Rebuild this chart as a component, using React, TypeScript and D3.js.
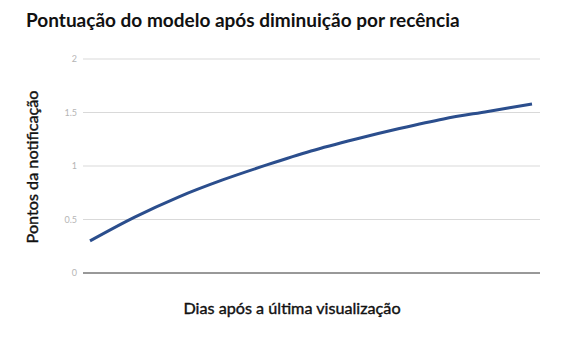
import React from "react";
import * as d3 from "d3";

const days = [0, 3, 6, 9, 12, 15, 18, 21, 24, 27, 30];
const scores = [0.3, 0.52, 0.71, 0.87, 1.01, 1.14, 1.25, 1.35, 1.44, 1.51, 1.58];
const yTicks = [0, 0.5, 1, 1.5, 2];
const yTickLabels = ["0", "0.5", "1", "1.5", "2"];
const title = "Pontuação do modelo após diminuição por recência";
const xTitle = "Dias após a última visualização";
const yTitle = "Pontos da notificação";

export default function App() {
  const W = 566, H = 345;
  const gridLeft = 83, gridRight = 540;
  const x = d3.scaleLinear().domain([0, 30]).range([90, 532]);
  const y = d3.scaleLinear().domain([0, 2]).range([273, 59]);
  const line = d3
    .line<number>()
    .x((_, i) => x(days[i]))
    .y((v) => y(v))
    .curve(d3.curveMonotoneX);
  const font = "Lato, 'Open Sans', sans-serif";
  return (
    <svg
      width={W}
      height={H}
      style={{ position: "absolute", left: 0, top: 0, background: "#fff" }}
    >
      <text x={26} y={27} fontFamily={font} fontWeight={700} fontSize={19} fill="#111">
        {title}
      </text>
      {yTicks.map((t, i) => (
        <g key={t}>
          <line
            x1={gridLeft}
            x2={gridRight}
            y1={y(t)}
            y2={y(t)}
            stroke={t === 0 ? "#333" : "#d9d9d9"}
            strokeWidth={1}
          />
          <text
            x={77}
            y={y(t)}
            dy="0.35em"
            textAnchor="end"
            fontFamily={font}
            fontSize={9}
            fill="#b5b5b5"
          >
            {yTickLabels[i]}
          </text>
        </g>
      ))}
      <path d={line(scores) || ""} fill="none" stroke="#2b4e8d" strokeWidth={3} strokeLinecap="butt" />
      <text
        x={292}
        y={314}
        textAnchor="middle"
        fontFamily={font}
        fontWeight={400}
        fontSize={16.2}
        fill="#111"
        stroke="#111"
        strokeWidth={0.4}
      >
        {xTitle}
      </text>
      <text
        transform={`translate(38,167) rotate(-90)`}
        textAnchor="middle"
        fontFamily={font}
        fontWeight={400}
        fontSize={16.2}
        fill="#111"
        stroke="#111"
        strokeWidth={0.4}
      >
        {yTitle}
      </text>
    </svg>
  );
}
